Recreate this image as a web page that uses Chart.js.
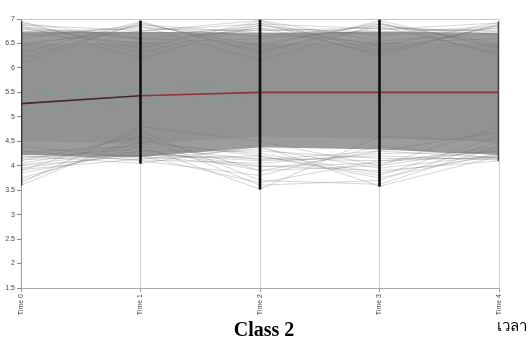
<!DOCTYPE html>
<html><head><meta charset="utf-8">
<script src="https://cdn.jsdelivr.net/npm/chart.js@4.4.1/dist/chart.umd.min.js"></script>
<style>
html,body{margin:0;padding:0;background:#fff;width:531px;height:340px;overflow:hidden}
#wrap{position:relative;width:531px;height:340px}
canvas{position:absolute;left:0;top:0}
#title{position:absolute;left:0;width:528px;top:318px;text-align:center;font:bold 20px "Liberation Serif","Times New Roman",serif;color:#000;line-height:22px}
#xname{position:absolute;left:497px;top:314px;font:15px "Noto Sans",sans-serif;white-space:nowrap;color:#000}
</style></head>
<body>
<div id="wrap">
<canvas id="c" width="531" height="340"></canvas>
<div id="title">Class 2</div>
<div id="xname">เวลา</div>
</div>
<script>
const categories = ['Time 0','Time 1','Time 2','Time 3','Time 4'];
const yTickValues = [1.5,2,2.5,3,3.5,4,4.5,5,5.5,6,6.5,7];
const meanLine  = [5.27,5.43,5.50,5.50,5.50];
const meanUpper = [5.42,5.58,5.64,5.64,5.64];
const meanLower = [5.12,5.28,5.36,5.36,5.36];
const bandTop    = [6.74,6.74,6.72,6.74,6.72];
const bandBottom = [4.22,4.18,4.38,4.33,4.22];
const coreTop    = [6.50,6.52,6.50,6.52,6.50];
const coreBottom = [4.50,4.45,4.60,4.55,4.50];
const axisMin = [3.60,4.05,3.52,3.58,4.10];
const axisMax = [6.95,6.96,6.98,6.98,6.94];
const upperProfiles = [
  [6.95,6.30,6.92,6.25,6.90],
  [6.90,6.40,6.96,6.35,6.85],
  [6.86,6.20,6.88,6.45,6.93],
  [6.80,6.50,6.82,6.30,6.88],
  [6.30,6.95,6.30,6.97,6.40],
  [6.20,6.90,6.45,6.93,6.25],
  [6.45,6.86,6.15,6.90,6.50],
  [6.10,6.93,6.35,6.84,6.30],
  [6.92,6.60,6.50,6.90,6.45],
  [6.50,6.75,6.97,6.55,6.70],
  [6.70,6.50,6.60,6.78,6.92],
  [6.60,6.88,6.72,6.50,6.60],
  [6.78,6.70,6.80,6.74,6.80],
  [6.88,6.76,6.90,6.80,6.76],
  [6.84,6.62,6.86,6.66,6.82],
  [6.66,6.84,6.64,6.86,6.68],
  [6.74,6.80,6.76,6.82,6.74],
  [6.82,6.58,6.78,6.70,6.86]
];
const lowerProfiles = [
  [3.60,4.60,3.90,4.30,4.70],
  [3.75,4.40,3.52,4.60,4.50],
  [3.90,4.70,3.70,3.62,4.40],
  [3.70,4.50,4.20,3.80,4.60],
  [4.00,4.20,3.65,4.10,4.30],
  [4.20,4.05,4.40,3.58,4.20],
  [3.85,4.30,4.00,3.90,4.10],
  [4.30,4.10,3.80,4.40,4.15],
  [3.65,4.80,4.50,4.00,4.80],
  [4.10,4.60,3.60,3.70,4.50],
  [4.40,4.15,4.20,3.75,4.25],
  [3.95,4.25,4.10,4.20,4.12],
  [4.15,4.35,3.90,4.00,4.35],
  [4.05,4.45,4.25,3.85,4.20],
  [4.12,4.22,4.15,4.10,4.18],
  [4.25,4.12,4.05,4.25,4.28],
  [4.02,4.30,4.30,4.15,4.14],
  [4.18,4.20,3.98,4.05,4.40],
  [4.28,4.40,4.12,4.30,4.16],
  [3.92,4.14,4.35,3.95,4.22]
];

const datasets = [];
datasets.push({type:'bar', data: categories.map((c,i)=>[axisMin[i],axisMax[i]]),
  backgroundColor:['#333','#111','#111','#111','#444'], barThickness:2, grouped:false, order:0});
datasets.push({type:'line', data: meanLine, borderWidth:1.6, pointRadius:0, order:1,
  borderColor:'#8a3444', segment:{borderColor: ctx => ctx.p0DataIndex===0 ? '#3d2a2e' : '#8a3444'}});
datasets.push({type:'line', data: meanUpper, borderWidth:1, pointRadius:0, order:2, borderColor:'rgba(90,170,150,0.4)'});
datasets.push({type:'line', data: meanLower, borderWidth:1, pointRadius:0, order:2, borderColor:'rgba(90,170,150,0.3)'});
upperProfiles.concat(lowerProfiles).forEach(p => datasets.push({type:'line', data:p, borderWidth:1,
  pointRadius:0, order:3, borderColor:'rgba(110,110,110,0.28)'}));
datasets.push({type:'line', data: coreTop, borderWidth:0, pointRadius:0, order:4,
  backgroundColor:'#929292', fill:'+1'});
datasets.push({type:'line', data: coreBottom, borderWidth:0, pointRadius:0, order:4, fill:false});
datasets.push({type:'line', data: bandTop, borderWidth:0, pointRadius:0, order:5,
  backgroundColor:'#9c9c9c', fill:'+1'});
datasets.push({type:'line', data: bandBottom, borderWidth:0, pointRadius:0, order:5, fill:false});

new Chart(document.getElementById('c'), {
  type:'line',
  data:{labels:categories, datasets},
  options:{
    responsive:false, animation:false, devicePixelRatio:1,
    layout:{padding:{top:19,right:32,left:0,bottom:0}},
    plugins:{legend:{display:false}, tooltip:{enabled:false}},
    elements:{line:{tension:0}},
    scales:{
      x:{type:'category', offset:false,
        grid:{color:'#d4d4d4', lineWidth:1, tickLength:4, tickColor:'#999', offset:false},
        border:{color:'#aaa'},
        ticks:{minRotation:90, maxRotation:90, autoSkip:false, font:{size:7, family:'Liberation Sans'}, color:'#444', padding:2},
        afterFit: s => { s.height = 52; }
      },
      y:{min:1.5, max:7,
        afterBuildTicks: s => { s.ticks = yTickValues.map(v => ({value:v})); },
        grid:{color: ctx => (ctx.tick && ctx.tick.value===7) ? '#c8c8c8' : 'rgba(0,0,0,0)', tickColor:'#888', tickLength:4},
        border:{color:'#999'},
        ticks:{font:{size:7, family:'Liberation Sans'}, color:'#444', padding:2, callback: v => String(v)},
        afterFit: s => { s.width = 21; }
      }
    }
  }
});
</script>
</body></html>
